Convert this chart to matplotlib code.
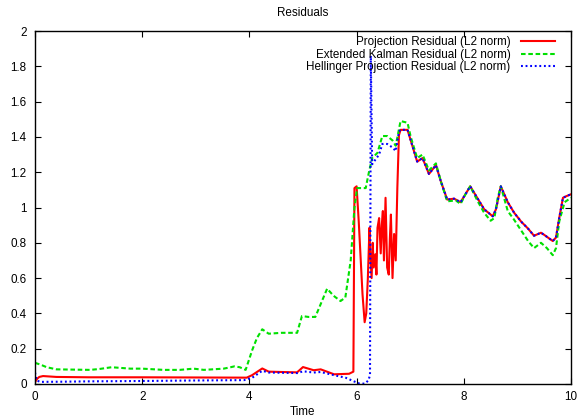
import matplotlib
matplotlib.use("Agg")
import matplotlib.pyplot as plt
import numpy as np

plt.rcParams['font.family'] = ['Liberation Sans', 'DejaVu Sans']

# ---- data ----
red_t = [0.0, 0.04, 0.08, 0.15, 0.4, 1.0, 2.0, 3.0, 3.95, 4.05, 4.15, 4.24, 4.36, 4.6, 4.89,
         5.0, 5.2, 5.33, 5.58, 5.86, 5.94, 5.96, 6.0, 6.04, 6.11, 6.15, 6.18, 6.21, 6.24,
         6.25, 6.28, 6.30, 6.32, 6.35, 6.37, 6.39, 6.42, 6.45, 6.47, 6.49, 6.51, 6.54,
         6.57, 6.6, 6.62, 6.64, 6.67, 6.7, 6.73, 6.76, 6.79]
red_v = [0.01, 0.03, 0.04, 0.045, 0.04, 0.038, 0.038, 0.037, 0.036, 0.05, 0.07, 0.088, 0.07,
         0.068, 0.066, 0.096, 0.078, 0.083, 0.055, 0.058, 0.07, 1.11, 1.12, 0.92, 0.51, 0.35,
         0.40, 0.60, 0.885, 0.77, 0.60, 0.80, 0.66, 0.735, 0.62, 0.885, 0.94, 0.74, 0.90,
         0.98, 0.70, 1.055, 0.66, 0.62, 0.82, 0.96, 0.60, 0.85, 0.70, 1.11, 1.41]

blue_t = [0.0, 0.03, 0.1, 0.5, 1.0, 2.0, 3.0, 3.9, 4.05, 4.24, 4.36, 4.9, 5.0, 5.2, 5.33,
          5.58, 5.8, 5.95, 6.05, 6.15, 6.22, 6.25, 6.265, 6.29, 6.3, 6.42, 6.48, 6.57,
          6.67, 6.73, 6.79]
blue_v = [0.065, 0.02, 0.012, 0.013, 0.015, 0.017, 0.02, 0.022, 0.035, 0.075, 0.065, 0.062,
          0.072, 0.065, 0.068, 0.05, 0.035, 0.015, 0.003, 0.002, 0.02, 0.05, 1.86, 1.245,
          1.25, 1.30, 1.36, 1.36, 1.34, 1.32, 1.43]

# common tail for projection and Hellinger residuals
tail_t = [6.82, 6.95, 7.01, 7.13, 7.23, 7.35, 7.48, 7.57, 7.69, 7.82, 7.94, 8.04, 8.12,
          8.26, 8.38, 8.54, 8.60, 8.69, 8.82, 8.94, 9.07, 9.2, 9.31, 9.44, 9.5, 9.66,
          9.72, 9.78, 9.85, 9.92, 10.0]
tail_v = [1.44, 1.44, 1.38, 1.26, 1.28, 1.19, 1.24, 1.15, 1.045, 1.05, 1.03, 1.08, 1.12,
          1.05, 0.99, 0.95, 0.99, 1.12, 1.03, 0.97, 0.92, 0.88, 0.84, 0.857, 0.845, 0.81,
          0.83, 0.94, 1.055, 1.065, 1.075]

green_t = [0.0, 0.1, 0.22, 0.4, 1.03, 1.2, 1.43, 1.78, 2.0, 2.4, 2.7, 2.96, 3.15, 3.52,
           3.65, 3.72, 3.82, 3.93, 4.05, 4.14, 4.24, 4.36, 4.6, 4.89, 4.98, 5.1, 5.23,
           5.45, 5.57, 5.7, 5.79, 5.89, 5.96, 6.01, 6.17, 6.23, 6.29, 6.39, 6.48, 6.57,
           6.67, 6.73, 6.82, 6.95, 7.01, 7.13, 7.23, 7.35, 7.48, 7.57, 7.69, 7.85, 7.94,
           8.04, 8.12, 8.26, 8.38, 8.50, 8.57, 8.63, 8.69, 8.82, 8.94, 9.07, 9.2, 9.31,
           9.44, 9.55, 9.66, 9.72, 9.78, 9.88, 10.0]
green_v = [0.12, 0.11, 0.095, 0.083, 0.08, 0.085, 0.095, 0.087, 0.087, 0.08, 0.08, 0.087,
           0.08, 0.087, 0.095, 0.1, 0.095, 0.08, 0.19, 0.26, 0.31, 0.285, 0.29, 0.29,
           0.385, 0.38, 0.38, 0.54, 0.5, 0.47, 0.49, 0.70, 1.0, 1.11, 1.11, 1.2, 1.28,
           1.31, 1.405, 1.405, 1.38, 1.35, 1.49, 1.48, 1.40, 1.28, 1.30, 1.21, 1.25, 1.15,
           1.035, 1.04, 1.02, 1.08, 1.12, 1.035, 0.97, 0.925, 0.94, 1.05, 1.12, 0.98, 0.93,
           0.87, 0.81, 0.77, 0.80, 0.77, 0.73, 0.77, 0.92, 1.03, 1.055]

labels = ["Projection Residual (L2 norm)",
          "Extended Kalman Residual (L2 norm)",
          "Hellinger Projection Residual (L2 norm)"]
x_ticks = [0, 2, 4, 6, 8, 10]
y_ticks = [0, 0.2, 0.4, 0.6, 0.8, 1, 1.2, 1.4, 1.6, 1.8, 2]

# ---- figure ----
fig = plt.figure(figsize=(5.78, 4.18), dpi=100)
ax = fig.add_axes([35/578, 1-384/418, 536/578, 353/418])

fs = 8.4
ax.plot(red_t + tail_t, red_v + tail_v, color='#ff0000', lw=1.5, label=labels[0])
ax.plot(green_t, green_v, color='#00e000', lw=1.5, dashes=(2.2, 1.3), label=labels[1])
ax.plot(blue_t + tail_t, blue_v + tail_v, color='#0000ff', lw=1.5, dashes=(0.9, 1.3),
        label=labels[2])

ax.set_xlim(0, 10)
ax.set_ylim(0, 2)
ax.set_xticks(x_ticks)
ax.set_xticklabels([str(v) for v in x_ticks])
ax.set_yticks(y_ticks)
ax.set_yticklabels([('%g' % v) for v in y_ticks])
ax.tick_params(direction='in', length=4, width=0.8, top=True, right=True,
               labelsize=fs, colors='black')
ax.tick_params(axis='x', pad=5)
ax.tick_params(axis='y', pad=6)
for s in ax.spines.values():
    s.set_linewidth(1.0)

ax.set_title("Residuals", fontsize=fs, pad=11)
ax.set_xlabel("Time", fontsize=fs, labelpad=2)

leg = ax.legend(loc='upper right', bbox_to_anchor=(0.970, 0.985), frameon=False,
                markerfirst=False, fontsize=fs, handlelength=2.9, handletextpad=0.9,
                labelspacing=0.05, borderpad=0, borderaxespad=0)

fig.savefig("out.png", dpi=100)
